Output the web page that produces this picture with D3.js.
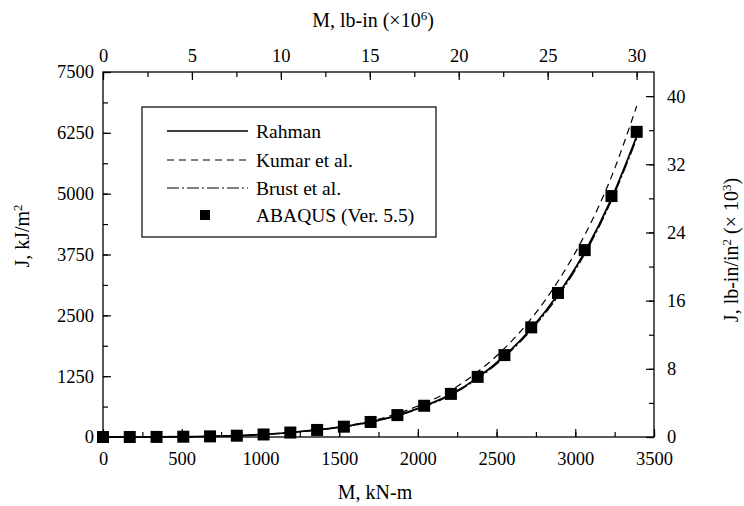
<!DOCTYPE html>
<html>
<head>
<meta charset="utf-8">
<script src="https://cdn.jsdelivr.net/npm/d3@7"></script>
<style>
  body { margin: 0; background: #fff; }
  text { font-family: "Liberation Serif", "Times New Roman", serif; fill: #000; }
</style>
</head>
<body>
<div id="chart"></div>
<script>
// moment values (kN-m), one point per ABAQUS step of 1.5e6 lb-in
var moment = [0, 170, 340, 510, 680, 850, 1020, 1190, 1360, 1530, 1700,
              1870, 2040, 2210, 2380, 2550, 2720, 2890, 3060, 3230, 3390];
// J values, kJ/m2
var rahman = [0, 0.3, 2, 6, 13, 27, 52, 92, 145, 212, 309,
              445, 635, 875, 1220, 1665, 2230, 2930, 3800, 4900, 6180];
var kumar  = [0, 0.3, 2, 6, 13, 27, 53, 94, 150, 222, 325,
              480, 690, 960, 1340, 1820, 2430, 3200, 4150, 5350, 6800];
var brust  = [0, 0.3, 2, 6, 13, 27, 52, 91, 143, 209, 304,
              438, 624, 860, 1200, 1640, 2200, 2890, 3760, 4860, 6130];
var abaqus = [0, 0.3, 2, 6, 13, 27, 52, 92, 145, 212, 309,
              450, 642, 886, 1236, 1683, 2252, 2960, 3840, 4951, 6270];

var xTicks = [0, 500, 1000, 1500, 2000, 2500, 3000, 3500];
var yTicks = [0, 1250, 2500, 3750, 5000, 6250, 7500];
var topTicks = [0, 5, 10, 15, 20, 25, 30];
var rightTicks = [0, 8, 16, 24, 32, 40];

var legendNames = ["Rahman", "Kumar et al.", "Brust et al.", "ABAQUS (Ver. 5.5)"];

// unit conversions for the secondary axes
var LBIN_PER_KNM = 8850.75 / 1e6;     // 10^6 lb-in per kN-m
var LBIN2_PER_KJM2 = 5.7101 / 1000;   // 10^3 lb-in/in2 per kJ/m2

var W = 744, H = 506;
var pLeft = 103, pRight = 654, pTop = 72, pBottom = 437;

var svg = d3.select('#chart').append('svg')
    .attr('width', W).attr('height', H);

var x = d3.scaleLinear().domain([0, 3500]).range([pLeft, pRight]);
var y = d3.scaleLinear().domain([0, 7500]).range([pBottom, pTop]);
var xTop = d3.scaleLinear().domain([0, 3500 * LBIN_PER_KNM]).range([pLeft, pRight]);
var yRight = d3.scaleLinear().domain([0, 7500 * LBIN2_PER_KJM2]).range([pBottom, pTop]);

function minorSteps(a, b, step) { return d3.range(a, b + 1e-9, step); }

// A X E S  (ticks point inward)
function drawAxis(axisGen, tx, ty) {
    var g = svg.append('g').attr('transform', 'translate(' + tx + ',' + ty + ')').call(axisGen);
    g.select('.domain').remove();
    g.selectAll('line').attr('stroke', '#000').attr('stroke-width', 1.2);
    g.selectAll('text').style('font-size', '18.5px').attr('fill', '#000')
        .style('font-family', '"Liberation Serif", "Times New Roman", serif');
    return g;
}

// bottom
drawAxis(d3.axisBottom(x).tickValues(xTicks).tickSize(-8).tickPadding(15).tickFormat(d3.format('d')), 0, pBottom);
drawAxis(d3.axisBottom(x).tickValues(minorSteps(0, 3500, 250)).tickSize(-5).tickFormat(''), 0, pBottom);
// left
drawAxis(d3.axisLeft(y).tickValues(yTicks).tickSize(-8).tickPadding(9).tickFormat(d3.format('d')), pLeft, 0);
drawAxis(d3.axisLeft(y).tickValues(minorSteps(0, 7500, 625)).tickSize(-5).tickFormat(''), pLeft, 0);
// top
drawAxis(d3.axisTop(xTop).tickValues(topTicks).tickSize(-8).tickPadding(10).tickFormat(d3.format('d')), 0, pTop);
drawAxis(d3.axisTop(xTop).tickValues(minorSteps(0, 30, 2.5)).tickSize(-5).tickFormat(''), 0, pTop);
// right
drawAxis(d3.axisRight(yRight).tickValues(rightTicks).tickSize(-8).tickPadding(13).tickFormat(d3.format('d')), pRight, 0);
drawAxis(d3.axisRight(yRight).tickValues(minorSteps(0, 40, 4)).tickSize(-5).tickFormat(''), pRight, 0);

// frame
svg.append('rect')
    .attr('x', pLeft).attr('y', pTop)
    .attr('width', pRight - pLeft).attr('height', pBottom - pTop)
    .attr('fill', 'none').attr('stroke', '#000').attr('stroke-width', 1.3);

// axis titles
svg.append('text').attr('x', 373).attr('y', 27).attr('text-anchor', 'middle')
    .style('font-size', '20px')
    .html('M, lb-in (\u00d710<tspan dy="-7" font-size="13px">6</tspan><tspan dy="7">)</tspan>');

svg.append('text').attr('x', 375).attr('y', 499).attr('text-anchor', 'middle')
    .style('font-size', '20px').text('M, kN-m');

svg.append('text')
    .attr('transform', 'translate(29,' + 236 + ') rotate(-90)')
    .attr('text-anchor', 'middle').style('font-size', '20px')
    .html('J, kJ/m<tspan dy="-7" font-size="13px">2</tspan>');

svg.append('text')
    .attr('transform', 'translate(738,' + 250 + ') rotate(-90)')
    .attr('text-anchor', 'middle').style('font-size', '20px')
    .html('J, lb-in/in<tspan dy="-7" font-size="13px">2</tspan><tspan dy="7"> (\u00d7 10</tspan><tspan dy="-7" font-size="13px">3</tspan><tspan dy="7">)</tspan>');

// C U R V E S
var line = function (vals) {
    return d3.line()
        .x(function (d, i) { return x(moment[i]); })
        .y(function (d) { return y(d); })
        .curve(d3.curveMonotoneX)(vals);
};

var plot = svg.append('g');

plot.append('path').attr('d', line(brust))
    .attr('fill', 'none').attr('stroke', '#000').attr('stroke-width', 1.2)
    .attr('stroke-dasharray', '12,3,2,3');
plot.append('path').attr('d', line(kumar))
    .attr('fill', 'none').attr('stroke', '#000').attr('stroke-width', 1.2)
    .attr('stroke-dasharray', '7,5');
plot.append('path').attr('d', line(rahman))
    .attr('fill', 'none').attr('stroke', '#000').attr('stroke-width', 1.8);

var ms = 12;
plot.selectAll('rect.abaqus').data(abaqus).enter().append('rect')
    .attr('class', 'abaqus')
    .attr('x', function (d, i) { return x(moment[i]) - ms / 2; })
    .attr('y', function (d) { return y(d) - ms / 2; })
    .attr('width', ms).attr('height', ms)
    .attr('fill', '#000');

// L E G E N D
var lg = svg.append('g');
lg.append('rect').attr('x', 142).attr('y', 107).attr('width', 294).attr('height', 130)
    .attr('fill', '#fff').attr('stroke', '#000').attr('stroke-width', 1.2);

var rowY = [131, 160, 188, 215];
var dashes = [null, '7,5', '12,3,2,3', null];
legendNames.forEach(function (name, i) {
    if (i < 3) {
        lg.append('line').attr('x1', 167).attr('x2', 248)
            .attr('y1', rowY[i]).attr('y2', rowY[i])
            .attr('stroke', '#000').attr('stroke-width', i === 0 ? 1.5 : 1.2)
            .attr('stroke-dasharray', dashes[i]);
    } else {
        lg.append('rect').attr('x', 205 - 5).attr('y', rowY[i] - 5)
            .attr('width', 10).attr('height', 10).attr('fill', '#000');
    }
    lg.append('text').attr('x', 256).attr('y', rowY[i]).attr('dy', '0.35em')
        .style('font-size', '19.5px').text(name);
});
</script>
</body>
</html>
